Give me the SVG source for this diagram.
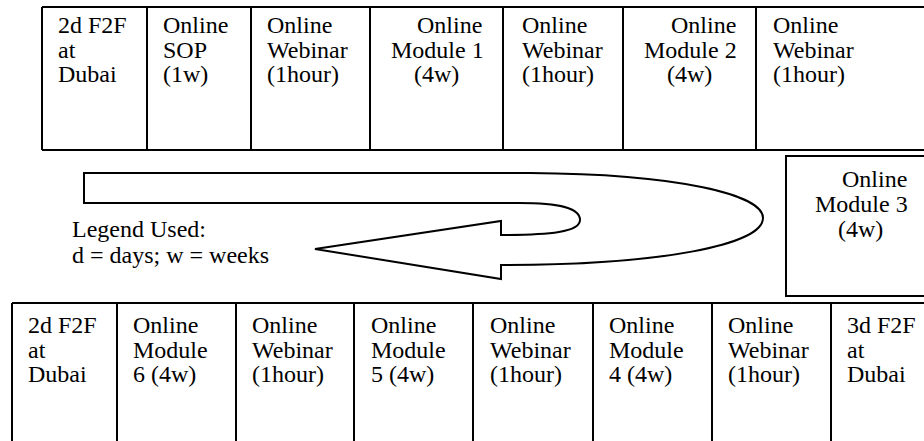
<svg xmlns="http://www.w3.org/2000/svg" width="924" height="441" viewBox="0 0 924 441">
<style>
text{font-family:'Liberation Serif','Times New Roman',Tinos,serif;font-size:24px;fill:#000}
.b{fill:#fff;stroke:#000;stroke-width:2}
.l{stroke:#000;stroke-width:2;fill:none}
</style>
<rect width="924" height="441" fill="#fff"/>
<g id="top-row">
<path class="l" d="M42,7 H930 M42,150 H930 M42,7 V150 M147,7 V150 M251,7 V150 M370,7 V150 M503,7 V150 M623,7 V150 M756,7 V150"/>
</g>
<g id="n1"><text x="58" y="33">2d F2F</text><text x="58" y="57.5">at</text><text x="58" y="82">Dubai</text></g>
<g id="n2"><text x="163" y="33">Online</text><text x="163" y="57.5">SOP</text><text x="163" y="82">(1w)</text></g>
<g id="n3"><text x="267" y="33">Online</text><text x="267" y="57.5">Webinar</text><text x="267" y="82">(1hour)</text></g>
<g id="n4"><text x="417" y="33">Online</text><text x="391" y="57.5">Module 1</text><text x="414" y="82">(4w)</text></g>
<g id="n5"><text x="522" y="33">Online</text><text x="522" y="57.5">Webinar</text><text x="522" y="82">(1hour)</text></g>
<g id="n6"><text x="671" y="33">Online</text><text x="644" y="57.5">Module 2</text><text x="667" y="82">(4w)</text></g>
<g id="n7"><text x="773" y="33">Online</text><text x="773" y="57.5">Webinar</text><text x="773" y="82">(1hour)</text></g>
<g id="n8"><rect class="b" x="786" y="156" width="150" height="140"/>
<text x="842" y="187">Online</text><text x="815" y="212">Module 3</text><text x="838" y="237">(4w)</text></g>
<g id="connectors">
<path class="b" d="M84,173 L530,173 C680,174 763,195 763,218 C763,245 660,265 501,265 L501,279 L315,249 L501,221 L501,235 C550,235 580,232 580,220 C580,208 560,203 519,203 L84,203 Z"/>
</g>
<g id="legend"><text x="72" y="237">Legend Used:</text><text x="72" y="263">d = days; w = weeks</text></g>
<g id="bottom-row">
<path class="l" d="M12,303 H930 M12,303 V445 M117,303 V445 M236,303 V445 M354,303 V445 M473,303 V445 M593,303 V445 M712,303 V445 M831,303 V445"/>
</g>
<g id="m1"><text x="28" y="333">2d F2F</text><text x="28" y="357.5">at</text><text x="28" y="382">Dubai</text></g>
<g id="m2"><text x="133" y="333">Online</text><text x="133" y="357.5">Module</text><text x="133" y="382">6 (4w)</text></g>
<g id="m3"><text x="252" y="333">Online</text><text x="252" y="357.5">Webinar</text><text x="252" y="382">(1hour)</text></g>
<g id="m4"><text x="371" y="333">Online</text><text x="371" y="357.5">Module</text><text x="371" y="382">5 (4w)</text></g>
<g id="m5"><text x="490" y="333">Online</text><text x="490" y="357.5">Webinar</text><text x="490" y="382">(1hour)</text></g>
<g id="m6"><text x="609" y="333">Online</text><text x="609" y="357.5">Module</text><text x="609" y="382">4 (4w)</text></g>
<g id="m7"><text x="728" y="333">Online</text><text x="728" y="357.5">Webinar</text><text x="728" y="382">(1hour)</text></g>
<g id="m8"><text x="847" y="333">3d F2F</text><text x="847" y="357.5">at</text><text x="847" y="382">Dubai</text></g>
</svg>
